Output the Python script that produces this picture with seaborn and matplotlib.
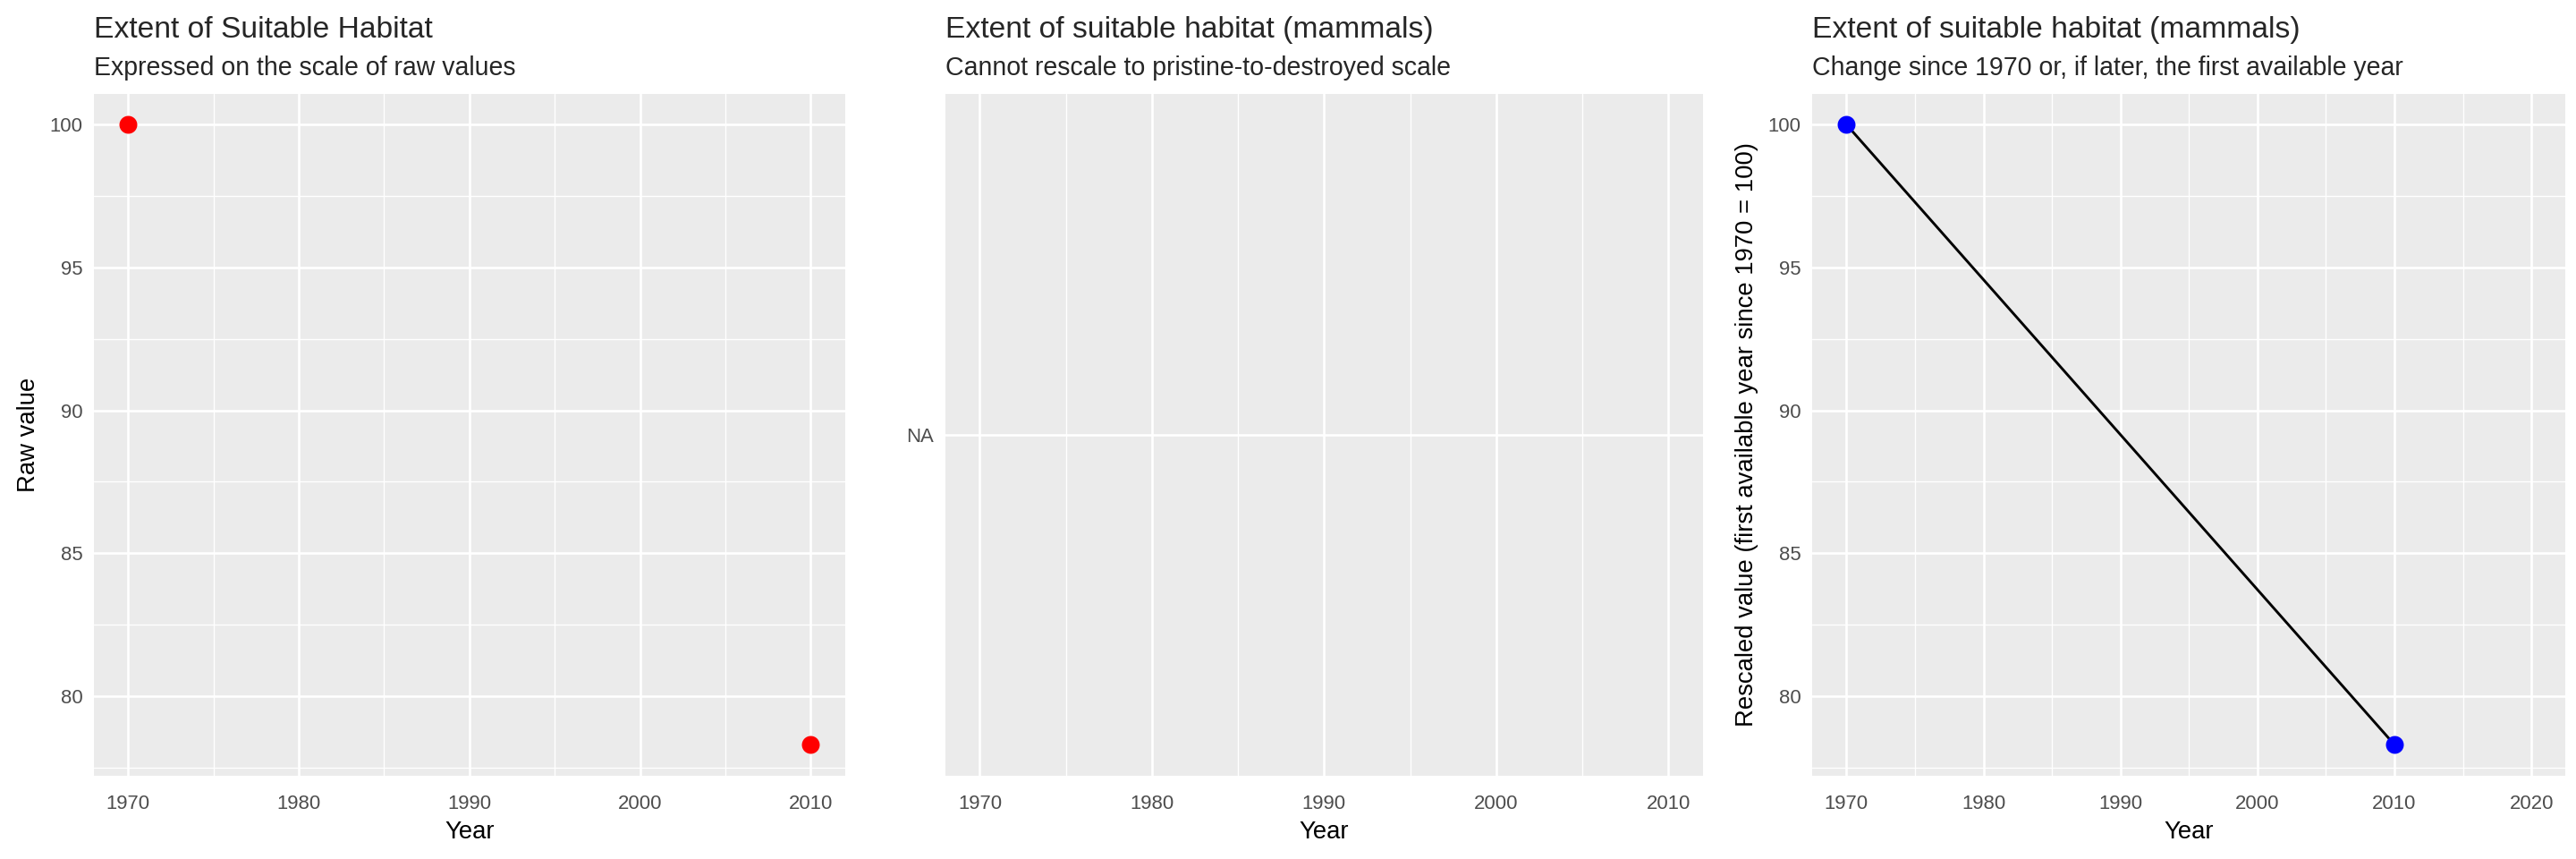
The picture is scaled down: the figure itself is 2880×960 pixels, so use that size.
import numpy as np
import pandas as pd
import matplotlib
matplotlib.use("Agg")
import matplotlib.pyplot as plt
import seaborn as sns
from matplotlib.ticker import MultipleLocator, FixedLocator

# Data
years = [1970, 2010]
raw_values = [100.0, 78.3]
rescaled_values = [100.0, 78.3]

titles = ["Extent of Suitable Habitat",
          "Extent of suitable habitat (mammals)",
          "Extent of suitable habitat (mammals)"]
subtitles = ["Expressed on the scale of raw values",
             "Cannot rescale to pristine-to-destroyed scale",
             "Change since 1970 or, if later, the first available year"]
ylabels = ["Raw value", "", "Rescaled value (first available year since 1970 = 100)"]

df_raw = pd.DataFrame({"Year": years, "value": raw_values})
df_res = pd.DataFrame({"Year": years, "value": rescaled_values})

sns.set_theme(style="darkgrid", rc={
    "axes.facecolor": "#EBEBEB",
    "grid.color": "white",
    "axes.edgecolor": "#EBEBEB",
})
plt.rcParams["font.family"] = ["Liberation Sans", "DejaVu Sans"]

fig = plt.figure(figsize=(15, 5), dpi=192)
bottom, top = 0.097, 0.891
lefts = [0.0365, 0.367, 0.7035]
rights = [0.328, 0.661, 0.996]
axes = [fig.add_axes([l, bottom, r - l, top - bottom]) for l, r in zip(lefts, rights)]


def ggplot_style(ax, ylabel, title, subtitle):
    for s in ax.spines.values():
        s.set_visible(False)
    ax.grid(True, which="major", color="white", lw=1.0)
    ax.grid(True, which="minor", color="white", lw=0.5)
    ax.tick_params(axis="both", which="major", length=2.75, width=0.9, color="#333333",
                   labelsize=8.3, labelcolor="#4D4D4D", pad=2)
    ax.tick_params(axis="x", which="major", pad=5)
    ax.tick_params(axis="both", which="minor", length=0)
    ax.set_xlabel("Year", fontsize=10.3, color="black", labelpad=3)
    ax.set_ylabel(ylabel, fontsize=10.3, color="black", labelpad=4)
    ax.text(0, 1.082, title, transform=ax.transAxes, fontsize=12.6, ha="left", va="baseline")
    ax.text(0, 1.027, subtitle, transform=ax.transAxes, fontsize=10.7, ha="left", va="baseline")
    ax.set_axisbelow(True)


def expand(lo, hi, frac=0.05):
    pad = (hi - lo) * frac
    return lo - pad, hi + pad


# Panel 1: raw values
ax = axes[0]
sns.scatterplot(data=df_raw, x="Year", y="value", color="red", s=56, linewidth=0, ax=ax, zorder=3)
ax.set_xlim(*expand(min(years), max(years)))
ax.set_ylim(*expand(min(raw_values), max(raw_values)))
ax.xaxis.set_major_locator(MultipleLocator(10))
ax.xaxis.set_minor_locator(MultipleLocator(5))
ax.yaxis.set_major_locator(MultipleLocator(5))
ax.yaxis.set_minor_locator(MultipleLocator(2.5))
ggplot_style(ax, ylabels[0], titles[0], subtitles[0])

# Panel 2: no rescaled data available
ax = axes[1]
ax.set_xlim(*expand(min(years), max(years)))
ax.set_ylim(0, 1)
ax.xaxis.set_major_locator(MultipleLocator(10))
ax.xaxis.set_minor_locator(MultipleLocator(5))
ax.yaxis.set_major_locator(FixedLocator([0.5]))
ax.set_yticklabels(["NA"])
ggplot_style(ax, ylabels[1], titles[1], subtitles[1])

# Panel 3: rescaled since first year
ax = axes[2]
sns.lineplot(data=df_res, x="Year", y="value", color="black", lw=1.1, ax=ax, zorder=2)
sns.scatterplot(data=df_res, x="Year", y="value", color="blue", s=56, linewidth=0, ax=ax, zorder=3)
ax.set_xlim(*expand(1970, 2020))
ax.set_ylim(*expand(min(rescaled_values), max(rescaled_values)))
ax.xaxis.set_major_locator(MultipleLocator(10))
ax.xaxis.set_minor_locator(MultipleLocator(5))
ax.yaxis.set_major_locator(MultipleLocator(5))
ax.yaxis.set_minor_locator(MultipleLocator(2.5))
ggplot_style(ax, ylabels[2], titles[2], subtitles[2])

fig.savefig("out.png", dpi=192, facecolor="white")
